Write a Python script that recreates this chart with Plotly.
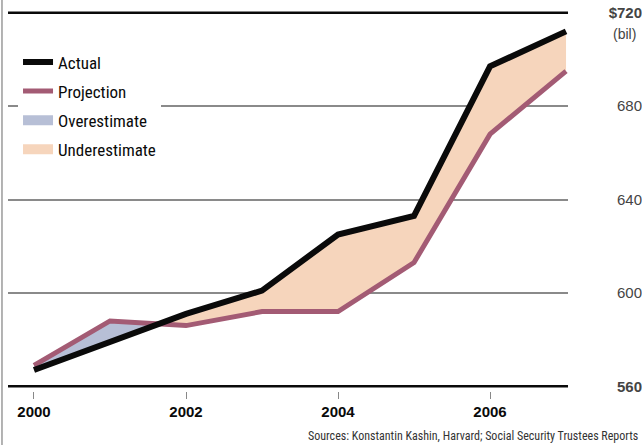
import plotly.graph_objects as go

years = [2000, 2001, 2002, 2003, 2004, 2005, 2006, 2007]
actual = [567, 579, 591, 601, 625, 633, 697, 712]
projection = [569, 588, 586, 592, 592, 613, 668, 695]

y_tickvals = [560, 600, 640, 680, 720]
y_ticktext = ["<b>560</b>", "600", "640", "680", "<b>$720</b>"]
x_tickvals = [2000, 2002, 2004, 2006]
x_ticktext = ["<b>2000</b>", "<b>2002</b>", "<b>2004</b>", "<b>2006</b>"]

NARROW = "Liberation Sans Narrow, Roboto Condensed, Liberation Sans, sans-serif"
SANS = "Liberation Sans, Arial, sans-serif"
BLACK = "#0a0a0a"
PROJ = "#a35b74"
OVER = "#b7bfd6"
UNDER = "#f6d5bc"


def split_regions(xs, act, proj):
    """Split the gap between the two series into over/under polygons."""
    polys = []
    pts_p, pts_a = [], []
    sign = None
    for i in range(len(xs)):
        d = proj[i] - act[i]
        s = d >= 0
        if i > 0 and s != sign:
            d0 = proj[i - 1] - act[i - 1]
            t = d0 / (d0 - d)
            xc = xs[i - 1] + t * (xs[i] - xs[i - 1])
            yc = act[i - 1] + t * (act[i] - act[i - 1])
            pts_p.append((xc, yc))
            pts_a.append((xc, yc))
            polys.append((pts_p, pts_a, sign))
            pts_p, pts_a = [(xc, yc)], [(xc, yc)]
        sign = s
        pts_p.append((xs[i], proj[i]))
        pts_a.append((xs[i], act[i]))
    polys.append((pts_p, pts_a, sign))
    return polys


fig = go.Figure()

for pts_p, pts_a, over in split_regions(years, actual, projection):
    px = [p[0] for p in pts_p] + [a[0] for a in reversed(pts_a)]
    py = [p[1] for p in pts_p] + [a[1] for a in reversed(pts_a)]
    fig.add_trace(go.Scatter(
        x=px, y=py, mode="lines", fill="toself",
        fillcolor=OVER if over else UNDER,
        line=dict(width=0, color=OVER if over else UNDER),
        showlegend=False, hoverinfo="skip",
    ))

fig.add_trace(go.Scatter(
    x=years, y=projection, mode="lines", name="Projection",
    line=dict(color=PROJ, width=5), legendrank=2, legendgroup="b",
))
fig.add_trace(go.Scatter(
    x=years, y=actual, mode="lines", name="Actual",
    line=dict(color=BLACK, width=6), legendrank=1, legendgroup="a",
))
fig.add_trace(go.Scatter(
    x=[None], y=[None], mode="lines", name="Overestimate",
    line=dict(color=OVER, width=15), legendrank=3, legendgroup="c",
))
fig.add_trace(go.Scatter(
    x=[None], y=[None], mode="lines", name="Underestimate",
    line=dict(color=UNDER, width=15), legendrank=4, legendgroup="d",
))

# heavy black frame lines at 560 and 720
for v in (560, 720):
    fig.add_shape(type="line", xref="x domain", yref="y", x0=0, x1=1, y0=v, y1=v,
                  line=dict(color=BLACK, width=2.5), layer="above")

# thin grey border at the left edge of the picture
fig.add_shape(type="line", xref="paper", yref="paper", x0=-0.0095, x1=-0.0095,
              y0=-0.2, y1=1.05, line=dict(color="#9a9a9a", width=1.5))

fig.add_annotation(text="(bil)", xref="paper", yref="y", x=0.994, y=711,
                   xanchor="right", yanchor="middle", showarrow=False,
                   font=dict(family=SANS, size=14, color="#444444"))
fig.add_annotation(text="Sources: Konstantin Kashin, Harvard; Social Security Trustees Reports",
                   xref="paper", yref="paper", x=0.997, y=-0.118,
                   xanchor="right", yanchor="middle", showarrow=False,
                   font=dict(family=NARROW, size=12, color="#333333"))

fig.update_layout(
    width=642, height=445,
    margin=dict(l=8, r=0, t=8, b=54),
    paper_bgcolor="white", plot_bgcolor="white",
    font=dict(family=NARROW, color=BLACK),
    showlegend=True,
    legend=dict(x=0.0158, y=0.905, xanchor="left", yanchor="top",
                bgcolor="white", borderwidth=0, tracegroupgap=4,
                font=dict(family=NARROW, size=17, color=BLACK)),
    xaxis=dict(domain=[0, 0.8833], range=[1999.658, 2007.026],
               tickvals=x_tickvals, ticktext=x_ticktext,
               ticks="outside", ticklen=7, tickcolor="#888888", tickwidth=1,
               showgrid=False, zeroline=False, showline=False,
               tickfont=dict(family=SANS, size=15, color=BLACK)),
    yaxis=dict(range=[558, 722], anchor="free", position=1.0, side="left",
               tickvals=y_tickvals, ticktext=y_ticktext, ticks="",
               showgrid=True, gridcolor="#8a8a8a", gridwidth=1.5,
               zeroline=False, showline=False,
               tickfont=dict(family=SANS, size=15, color="#444444")),
)

fig.write_html("out.html",
               config={"displayModeBar": False},
               post_script="document.body.style.margin='0';document.body.style.overflow='hidden';")
